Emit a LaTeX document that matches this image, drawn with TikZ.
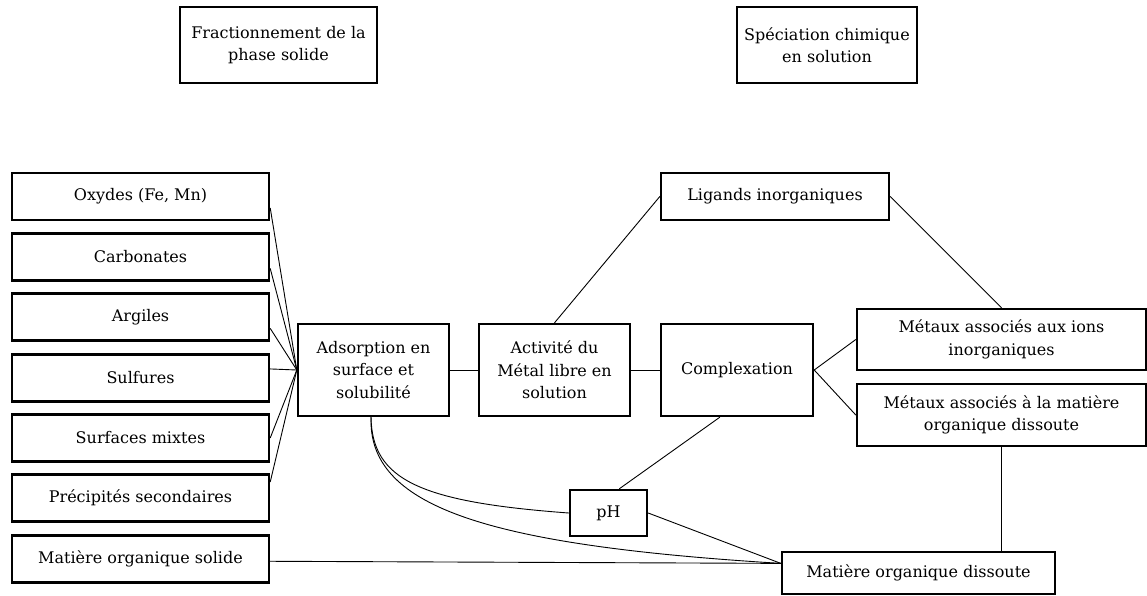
\documentclass[tikz,border=0pt]{standalone}
\usepackage{fontspec}
\setmainfont{DejaVu Serif}
\usetikzlibrary{positioning}

\begin{document}
\begin{tikzpicture}[x=1pt, y=-1pt,
    every node/.style={font=\fontsize{16}{22.5}\selectfont, align=center},
    box/.style={draw, line width=2.4pt, inner sep=0pt},
    link/.style={line width=0.9pt}]
    \useasboundingbox (0,0) rectangle (1147,595);
    % titles
    \node[box, minimum width=197, minimum height=76] (frac) at (278.5,45) {Fractionnement de la\\phase solide};
    \node[box, minimum width=180, minimum height=76] (spec) at (827,45) {Spéciation chimique\\en solution};
    % solid phase
    \node[box, minimum width=257, minimum height=47] (oxy) at (140.5,196.5) {Oxydes (Fe, Mn)};
    \node[box, minimum width=257, minimum height=47] (carb) at (140.5,257) {Carbonates};
    \node[box, minimum width=257, minimum height=47] (arg) at (140.5,317) {Argiles};
    \node[box, minimum width=257, minimum height=47] (sulf) at (140.5,378) {Sulfures};
    \node[box, minimum width=257, minimum height=47] (surf) at (140.5,438) {Surfaces mixtes};
    \node[box, minimum width=257, minimum height=47] (prec) at (140.5,498) {Précipités secondaires};
    \node[box, minimum width=257, minimum height=47] (mos) at (140.5,559) {Matière organique solide};
    % middle row
    \node[box, minimum width=151, minimum height=92] (ads) at (373.5,370) {Adsorption en\\surface et\\solubilité};
    \node[box, minimum width=151, minimum height=92] (act) at (554.5,370) {Activité du\\Métal libre en\\solution};
    \node[box, minimum width=152, minimum height=92] (cx) at (737,370) {Complexation};
    \node[box, minimum width=228, minimum height=47] (lig) at (775,196.5) {Ligands inorganiques};
    \node[box, minimum width=289, minimum height=61] (mi) at (1001.5,339.5) {Métaux associés aux ions\\inorganiques};
    \node[box, minimum width=289, minimum height=62] (mo) at (1001.5,415) {Métaux associés à la matière\\organique dissoute};
    \node[box, minimum width=77, minimum height=46] (ph) at (608.5,513) {pH};
    \node[box, minimum width=273, minimum height=42] (mod) at (918.5,573) {Matière organique dissoute};

    \draw[link] (oxy.-5) -- (ads.west);
    \draw[link] (carb.-5) -- (ads.west);
    \draw[link] (arg.-5) -- (ads.west);
    \draw[link] (sulf.4) -- (ads.west);
    \draw[link] (surf.0) -- (ads.west);
    \draw[link] (prec.7) -- (ads.west);
    \draw[link] (mos.-1) -- (mod.176);
    \draw[link] (ads.east) -- (act.west);
    \draw[link] (act.east) -- (cx.west);
    \draw[link] (act.north) -- (lig.west);
    \draw[link] (lig.east) -- (mi.north);
    \draw[link] (cx.east) -- (mi.west);
    \draw[link] (cx.east) -- (mo.west);
    \draw[link] (cx.250) -- (ph.66);
    \draw[link] (ph.east) -- (mod.176);
    \draw[link] (mo.south) -- (mo.south |- mod.north);
    \draw[link] (ads.267) .. controls (372,480) and (420,502) .. (ph.west);
    \draw[link] (ads.267) .. controls (368,505) and (480,545) .. (mod.176);
\end{tikzpicture}
\end{document}
